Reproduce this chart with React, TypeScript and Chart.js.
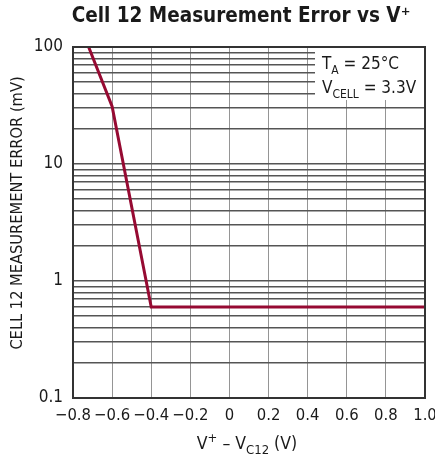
import React, { useEffect, useRef } from "react";
import { Chart, registerables } from "chart.js";

Chart.register(...registerables);

const xValues = [-0.72, -0.6, -0.4, 1.0];
const yValues = [100, 31, 0.6, 0.6];
const xTicks = [-0.8, -0.6, -0.4, -0.2, 0, 0.2, 0.4, 0.6, 0.8, 1.0];
const xTickLabels = ["\u22120.8", "\u22120.6", "\u22120.4", "\u22120.2", "0", "0.2", "0.4", "0.6", "0.8", "1.0"];
const yTicks = [
  0.1, 0.2, 0.3, 0.4, 0.5, 0.6, 0.7, 0.8, 0.9,
  1, 2, 3, 4, 5, 6, 7, 8, 9,
  10, 20, 30, 40, 50, 60, 70, 80, 90, 100,
];
const yMajor = [0.1, 1, 10, 100];
const yMajorLabels = ["0.1", "1", "10", "100"];

const FONT = "'Liberation Sans Narrow', 'DejaVu Sans Condensed', 'Arial Narrow', sans-serif";

type Part = { t: string; k?: "sub" | "sup" };

function drawRich(ctx: CanvasRenderingContext2D, parts: Part[], x: number, y: number, size: number, align: "left" | "center") {
  const big = `${size}px ${FONT}`;
  const small = `${Math.round(size * 0.72)}px ${FONT}`;
  let total = 0;
  for (const p of parts) {
    ctx.font = p.k ? small : big;
    total += ctx.measureText(p.t).width;
  }
  let cx = align === "center" ? x - total / 2 : x;
  ctx.textAlign = "left";
  ctx.textBaseline = "alphabetic";
  for (const p of parts) {
    ctx.font = p.k ? small : big;
    const dy = p.k === "sub" ? size * 0.28 : p.k === "sup" ? -size * 0.38 : 0;
    ctx.fillText(p.t, cx, y + dy);
    cx += ctx.measureText(p.t).width;
  }
}

const decorPlugin = {
  id: "decor",
  afterDraw(chart: any) {
    const ctx: CanvasRenderingContext2D = chart.ctx;
    const a = chart.chartArea;
    ctx.save();
    // annotation box
    ctx.fillStyle = "#ffffff";
    ctx.fillRect(a.right - 110, a.top + 1, 109, 52);
    ctx.fillStyle = "#1a1a1a";
    drawRich(ctx, [{ t: "T" }, { t: "A", k: "sub" }, { t: " = 25°C" }], a.right - 103, a.top + 22, 17, "left");
    drawRich(ctx, [{ t: "V" }, { t: "CELL", k: "sub" }, { t: " = 3.3V" }], a.right - 103, a.top + 46, 17, "left");
    // frame
    ctx.strokeStyle = "#333333";
    ctx.lineWidth = 2;
    ctx.strokeRect(a.left, a.top, a.right - a.left, a.bottom - a.top);
    // title
    ctx.fillStyle = "#1a1a1a";
    ctx.textAlign = "center";
    ctx.textBaseline = "middle";
    ctx.font = `bold 20.5px ${FONT}`;
    ctx.fillText("Cell 12 Measurement Error vs V\u207A", 241, 17);
    // x title
    drawRich(ctx, [{ t: "V" }, { t: "+", k: "sup" }, { t: " \u2013 V" }, { t: "C12", k: "sub" }, { t: " (V)" }], 247, 449, 17.5, "center");
    // y title
    ctx.translate(18, 213);
    ctx.rotate(-Math.PI / 2);
    ctx.textAlign = "center";
    ctx.textBaseline = "middle";
    ctx.font = `16.3px ${FONT}`;
    ctx.fillText("CELL 12 MEASUREMENT ERROR (mV)", 0, 0);
    ctx.restore();
  },
};

export default function App() {
  const ref = useRef<HTMLCanvasElement>(null);
  useEffect(() => {
    if (!ref.current) return;
    const chart = new Chart(ref.current, {
      type: "line",
      data: {
        datasets: [
          {
            data: xValues.map((x, i) => ({ x, y: yValues[i] })),
            borderColor: "#960a32",
            borderWidth: 3,
            pointRadius: 0,
            tension: 0,
            fill: false,
          },
        ],
      },
      options: {
        responsive: false,
        animation: false,
        layout: { padding: { top: 47, right: 10, left: 0, bottom: 0 } },
        plugins: { legend: { display: false }, title: { display: false }, tooltip: { enabled: false } },
        scales: {
          x: {
            type: "linear",
            min: -0.8,
            max: 1.0,
            afterBuildTicks: (s: any) => {
              s.ticks = xTicks.map((v) => ({ value: v }));
            },
            afterFit: (s: any) => {
              s.height = 60;
              s.paddingLeft = 0;
              s.paddingRight = 0;
            },
            ticks: {
              autoSkip: false,
              maxRotation: 0,
              padding: 8,
              color: "#1a1a1a",
              font: { family: FONT, size: 16.5 },
              callback: (v: any) => {
                const i = xTicks.findIndex((t) => Math.abs(t - Number(v)) < 1e-6);
                return i >= 0 ? xTickLabels[i] : "";
              },
            },
            grid: { color: "#959595", lineWidth: 1, drawTicks: false },
            border: { display: false },
          },
          y: {
            type: "logarithmic",
            min: 0.1,
            max: 100,
            afterBuildTicks: (s: any) => {
              s.ticks = yTicks.map((v) => ({ value: v }));
            },
            afterFit: (s: any) => {
              s.width = 73;
              s.paddingTop = 0;
              s.paddingBottom = 0;
            },
            ticks: {
              autoSkip: false,
              padding: 10,
              color: "#1a1a1a",
              font: { family: FONT, size: 17 },
              callback: (v: any) => {
                const i = yMajor.findIndex((t) => Math.abs(t - Number(v)) < 1e-9);
                return i >= 0 ? yMajorLabels[i] : "";
              },
            },
            grid: { color: "#555555", lineWidth: 1.5, drawTicks: false },
            border: { display: false },
          },
        },
      },
      plugins: [decorPlugin],
    } as any);
    return () => chart.destroy();
  }, []);
  return (
    <div style={{ position: "absolute", left: 0, top: 0, width: 435, height: 458, background: "#fff" }}>
      <canvas ref={ref} width={435} height={458} />
    </div>
  );
}
